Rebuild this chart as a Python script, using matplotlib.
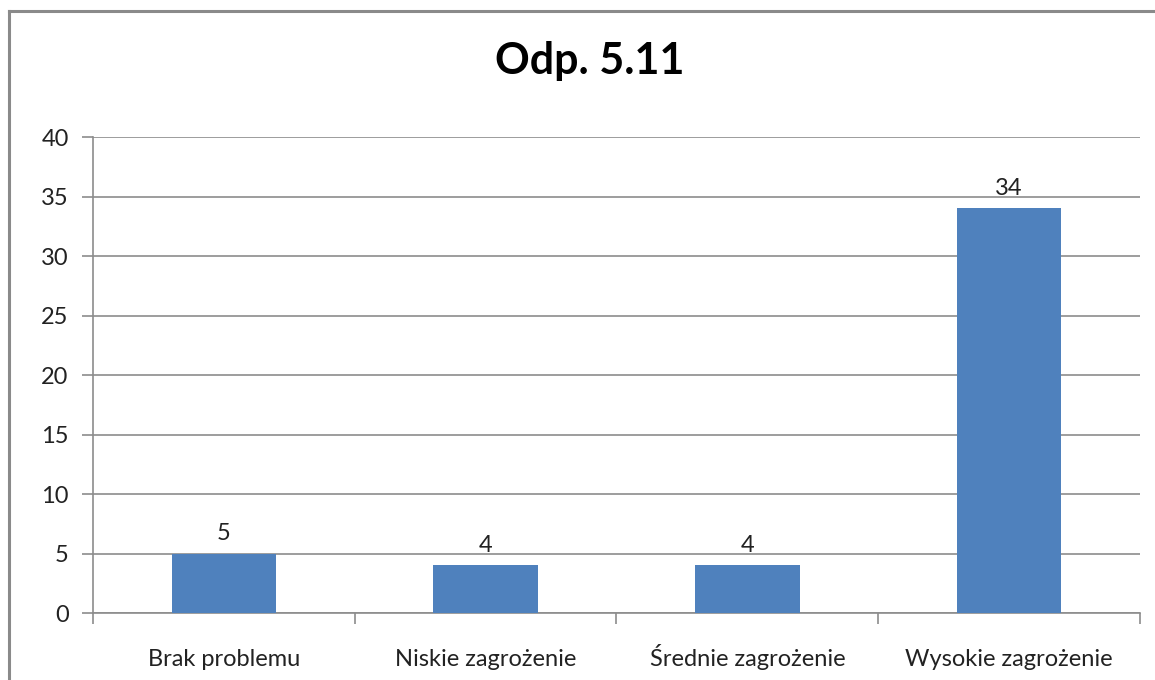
import matplotlib
matplotlib.use('Agg')
import matplotlib.pyplot as plt
from matplotlib.lines import Line2D

categories = ['Brak problemu', 'Niskie zagrożenie', 'Średnie zagrożenie', 'Wysokie zagrożenie']
values = [5, 4, 4, 34]
y_ticks = [0, 5, 10, 15, 20, 25, 30, 35, 40]

BAR_COLOR = '#4F81BD'
GRID_COLOR = '#8c8c8c'
TEXT_COLOR = '#222222'
FS = 17

plt.rcParams['font.family'] = ['Lato', 'DejaVu Sans']

fig = plt.figure(figsize=(11.55, 6.8), dpi=100)
ax = fig.add_axes([0.0805, 0.0985, 0.9065, 0.70])

x = list(range(len(categories)))
bars = ax.bar(x, values, width=0.4, color=BAR_COLOR, zorder=3)

for rect, v in zip(bars, values):
    ax.annotate(str(v), (rect.get_x() + rect.get_width() / 2, v),
                xytext=(0, 7), textcoords='offset points',
                ha='center', va='bottom', fontsize=FS, color=TEXT_COLOR)

ax.set_xlim(-0.5, len(categories) - 0.5)
ax.set_ylim(0, 40)
ax.set_yticks(y_ticks)
ax.set_yticklabels([str(t) for t in y_ticks], fontsize=FS, color=TEXT_COLOR)
ax.yaxis.grid(True, color=GRID_COLOR, linewidth=1.2, zorder=0)

# category labels centred, ticks on category boundaries
ax.set_xticks(x)
ax.set_xticklabels(categories, fontsize=FS, color=TEXT_COLOR)
ax.tick_params(axis='x', length=0, pad=38)
for lbl in ax.get_xticklabels():
    lbl.set_va('baseline')
ax.set_xticks([i - 0.5 for i in range(len(categories) + 1)], minor=True)
ax.tick_params(axis='x', which='minor', length=8, color=GRID_COLOR, width=1.2)
ax.tick_params(axis='y', length=8, color=GRID_COLOR, width=1.2, pad=9.5)

for side in ['top', 'right']:
    ax.spines[side].set_visible(False)
for side in ['left', 'bottom']:
    ax.spines[side].set_color(GRID_COLOR)
    ax.spines[side].set_linewidth(1.2)

fig.text(0.511, 0.91, 'Odp. 5.11', ha='center', va='center',
         fontsize=31, fontweight='bold', color='black')

# outer chart frame (left and top edges visible)
fig.add_artist(Line2D([0.0078, 0.0078], [0.0, 0.984], transform=fig.transFigure,
                      color='#8a8a8a', linewidth=2.2))
fig.add_artist(Line2D([0.0078, 1.0], [0.984, 0.984], transform=fig.transFigure,
                      color='#8a8a8a', linewidth=2.2))

fig.savefig('out.png', dpi=100)
